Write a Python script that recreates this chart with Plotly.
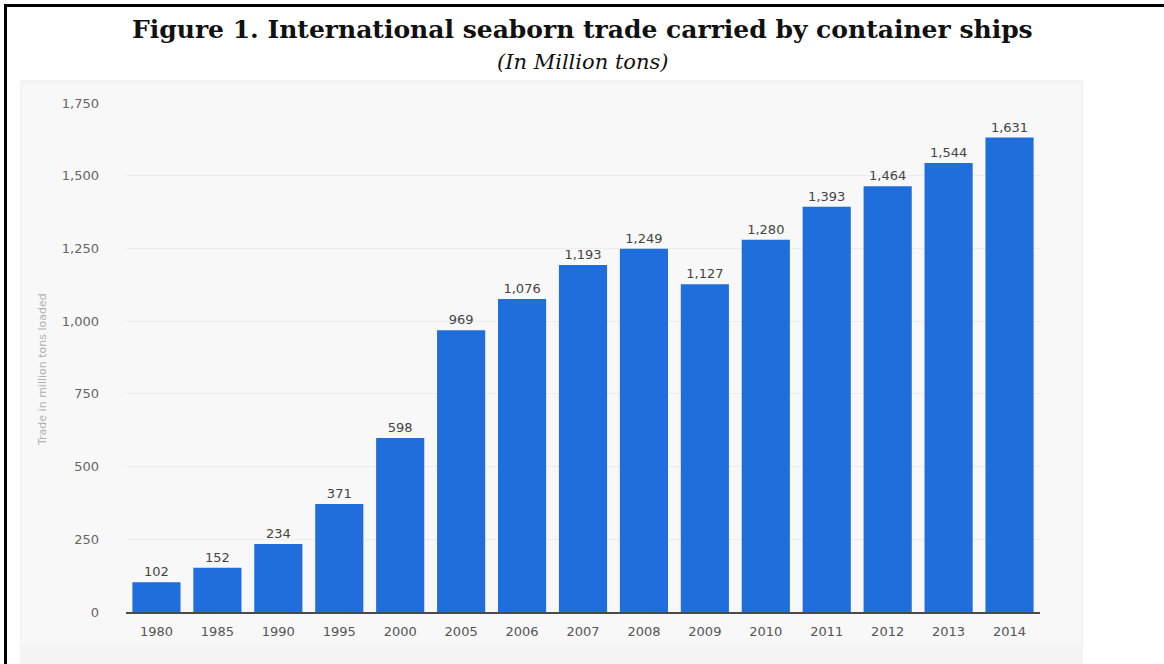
import plotly.graph_objects as go

# Container trade volumes, million tons loaded
years = ["1980", "1985", "1990", "1995", "2000", "2005", "2006", "2007",
         "2008", "2009", "2010", "2011", "2012", "2013", "2014"]
trade = [102, 152, 234, 371, 598, 969, 1076, 1193,
         1249, 1127, 1280, 1393, 1464, 1544, 1631]
y_ticks = [0, 250, 500, 750, 1000, 1250, 1500, 1750]

W, H = 1164, 664
L, R, T, B = 126, 124, 103, 52
pw, ph = W - L - R, H - T - B


def px_x(x):
    return (x - L) / pw


def px_y(y):
    return (H - B - y) / ph


fig = go.Figure()
fig.add_trace(go.Bar(
    x=years,
    y=trade,
    marker=dict(color="#1f6edb", line=dict(width=0)),
    text=[f"{v:,}" for v in trade],
    textposition="outside",
    textfont=dict(family="DejaVu Sans", size=13, color="#444444"),
    cliponaxis=False,
    hoverinfo="skip",
))

shapes = [
    # chart panel background
    dict(type="rect", xref="paper", yref="paper", layer="below",
         x0=px_x(20), x1=px_x(1083), y0=px_y(80), y1=px_y(664),
         fillcolor="#f4f4f4", line=dict(width=0)),
    dict(type="rect", xref="paper", yref="paper", layer="below",
         x0=px_x(22), x1=px_x(1081), y0=px_y(84), y1=px_y(645),
         fillcolor="#f8f8f8", line=dict(width=0)),
    # frame lines (top and left)
    dict(type="line", xref="paper", yref="paper",
         x0=px_x(4), x1=px_x(1164), y0=px_y(5.5), y1=px_y(5.5),
         line=dict(color="#000000", width=3)),
    dict(type="line", xref="paper", yref="paper",
         x0=px_x(5.5), x1=px_x(5.5), y0=px_y(4), y1=px_y(664),
         line=dict(color="#000000", width=3)),
]

annotations = [
    dict(text="<b>Figure 1. International seaborn trade carried by container ships</b>",
         xref="paper", yref="paper", x=px_x(582), y=px_y(30),
         xanchor="center", yanchor="middle", showarrow=False,
         font=dict(family="DejaVu Serif", size=25, color="#111111")),
    dict(text="<i>(In Million tons)</i>",
         xref="paper", yref="paper", x=px_x(582), y=px_y(62),
         xanchor="center", yanchor="middle", showarrow=False,
         font=dict(family="DejaVu Serif", size=21, color="#111111")),
    dict(text="Trade in million tons loaded",
         xref="paper", yref="paper", x=px_x(42), y=px_y(370),
         xanchor="center", yanchor="middle", showarrow=False, textangle=-90,
         font=dict(family="DejaVu Sans", size=11, color="#b0b0b0")),
]

fig.update_layout(
    width=W, height=H,
    margin=dict(l=L, r=R, t=T, b=B),
    paper_bgcolor="#ffffff",
    plot_bgcolor="rgba(0,0,0,0)",
    bargap=0.21,
    showlegend=False,
    shapes=shapes,
    annotations=annotations,
    xaxis=dict(
        type="category",
        range=[-0.5, len(years) - 0.5],
        showgrid=False,
        showline=True, linecolor="#4a4a4a", linewidth=2,
        ticks="", ticklabelstandoff=6,
        tickfont=dict(family="DejaVu Sans", size=13, color="#555555"),
    ),
    yaxis=dict(
        range=[0, 1750],
        tickvals=y_ticks,
        ticktext=[f"{v:,}" for v in y_ticks],
        showgrid=True, gridcolor="#ececec", gridwidth=1,
        zeroline=False, showline=False,
        ticks="", ticklabelstandoff=26,
        tickfont=dict(family="DejaVu Sans", size=13, color="#666666"),
    ),
)

fig.write_html("out.html")
